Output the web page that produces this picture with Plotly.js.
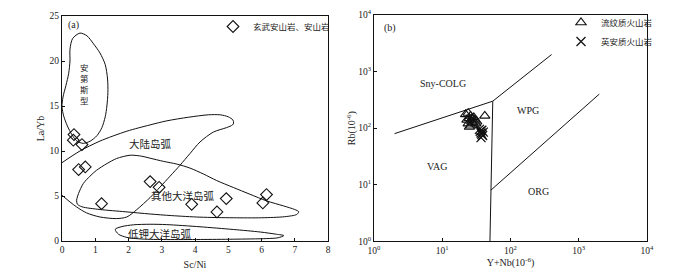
<!DOCTYPE html>
<html>
<head>
<meta charset="utf-8">
<script src="https://cdn.plot.ly/plotly-3.0.1.min.js"></script>
<style>html,body{margin:0;padding:0;background:#fff;}#chart{width:689px;height:276px;}</style>
</head>
<body>
<div id="chart"></div>
<script>
// ---------- Panel (a): Sc/Ni vs La/Yb ----------
const scNi = [0.36, 0.34, 0.60, 0.50, 0.70, 1.19, 2.65, 2.92, 3.90, 4.66, 4.94, 6.04, 6.15];
const laYb = [11.83, 11.2, 10.72, 7.94, 8.23, 4.15, 6.6, 5.97, 4.08, 3.23, 4.71, 4.23, 5.16];
const seriesA = '玄武安山岩、安山岩';

// field boundaries (Sc/Ni, La/Yb)
const andeanX = [0.54,0.75,0.95,1.14,1.30,1.37,1.38,1.35,1.30,1.20,1.05,0.85,0.64,0.45,0.30,0.16,0.05,0.00,0.03,0.12,0.20,0.24,0.24,0.32,0.54];
const andeanY = [23.1,22.8,21.9,20.9,19.6,18.0,16.5,15.0,13.8,12.6,11.7,11.1,10.85,11.1,11.8,12.8,13.9,14.9,16.0,17.3,18.6,20.0,21.3,22.5,23.1];

const contX = [0.00,0.54,1.14,1.95,2.65,3.15,3.80,4.40,4.76,5.00,5.14,5.16,5.13,4.95,4.55,4.15,3.85,3.55,3.25,2.95,2.65,2.25,1.95,1.64,1.14,0.74,0.44,0.24,0.00];
const contY = [8.7,10.0,11.1,12.2,12.9,13.35,13.75,14.02,14.02,13.8,13.45,13.1,12.9,12.6,12.1,11.0,9.72,8.42,7.2,6.0,4.83,3.49,2.67,2.49,2.67,3.12,3.78,4.34,5.08];

const oceanX = [0.44,0.50,0.64,0.84,1.04,1.35,1.64,2.05,2.40,2.65,3.05,3.45,3.85,4.25,4.65,5.15,5.65,6.16,6.66,7.00,7.12,7.06,6.70,6.00,5.15,4.15,3.30,2.65,1.90,1.14,0.60,0.46,0.44];
const oceanY = [4.53,5.3,6.38,7.2,7.86,8.6,9.16,9.53,9.42,9.2,8.85,8.55,8.1,7.45,6.72,5.95,5.2,4.45,3.9,3.5,3.25,2.95,2.7,2.58,2.58,2.65,2.82,3.0,3.25,3.5,3.8,4.1,4.53];

const lowKX = [1.60,1.80,2.15,2.65,3.15,4.15,5.15,5.96,6.45,6.67,6.50,6.16,5.15,4.16,3.15,2.40,1.95,1.70,1.60];
const lowKY = [1.30,1.60,1.80,1.86,1.82,1.58,1.28,1.00,0.75,0.60,0.36,0.27,0.20,0.17,0.16,0.22,0.40,0.75,1.30];

// ---------- Panel (b): Y+Nb vs Rb ----------
const seriesB1 = '流纹质火山岩';
const seriesB2 = '英安质火山岩';
const rhyYNb = [22, 24, 25, 26, 27, 24, 28, 30, 23, 26, 29, 31, 27, 25, 32, 42];
const rhyRb  = [175,185,150,165,130,120,125,140,140,110,155,120,145,105,130,165];
const dacYNb = [35, 36, 37, 38, 39, 40, 38, 37];
const dacRb  = [95, 88, 82, 78, 74, 85, 92, 68];

// discrimination boundaries (Pearce et al. 1984)
const colgVagX = [2, 55];      const colgVagY = [80, 300];
const wpgColgX = [55, 400];    const wpgColgY = [300, 2000];
const vagSplitX = [55, 51.5, 50]; const vagSplitY = [300, 8, 1];
const orgWpgX = [51.5, 2000];  const orgWpgY = [8, 400];

const logTicks = [1, 10, 100, 1000, 10000];
const logTickText = ['10<sup>0</sup>','10<sup>1</sup>','10<sup>2</sup>','10<sup>3</sup>','10<sup>4</sup>'];

const serif = 'Liberation Serif, Times New Roman, Noto Sans CJK SC, serif';
const txt = '#222';
const fieldLine = {color:'#111', width:1, shape:'spline', smoothing:0.8};
const bLine = {color:'#111', width:1};

function field(x, y, xa, ya){
  return {x:x, y:y, xaxis:xa, yaxis:ya, mode:'lines', line:fieldLine, showlegend:false, hoverinfo:'skip'};
}
function bnd(x, y){
  return {x:x, y:y, xaxis:'x2', yaxis:'y2', mode:'lines', line:bLine, showlegend:false, hoverinfo:'skip'};
}

const traces = [
  field(andeanX, andeanY, 'x', 'y'),
  field(contX, contY, 'x', 'y'),
  field(oceanX, oceanY, 'x', 'y'),
  field(lowKX, lowKY, 'x', 'y'),
  {x:scNi, y:laYb, xaxis:'x', yaxis:'y', mode:'markers', name:seriesA, legend:'legend',
   marker:{symbol:'diamond-open', size:9, color:'#111', line:{width:1.1}}},
  bnd(colgVagX, colgVagY), bnd(wpgColgX, wpgColgY), bnd(vagSplitX, vagSplitY), bnd(orgWpgX, orgWpgY),
  {x:rhyYNb, y:rhyRb, xaxis:'x2', yaxis:'y2', mode:'markers', name:seriesB1, legend:'legend2',
   marker:{symbol:'triangle-up-open', size:9, color:'#111', line:{width:1.1}}},
  {x:dacYNb, y:dacRb, xaxis:'x2', yaxis:'y2', mode:'markers', name:seriesB2, legend:'legend2',
   marker:{symbol:'x-thin-open', size:9, color:'#111', line:{width:1.3, color:'#111'}}}
];

const axBase = {showgrid:false, zeroline:false, showline:true, mirror:true, linecolor:'#111', linewidth:1,
  ticks:'inside', ticklen:3, tickcolor:'#111', tickfont:{family:serif, size:9.5, color:txt}};

const W = 689, H = 276;
function px(a, b){ return [a/W, b/W]; }
function py(top, bot){ return [1 - bot/H, 1 - top/H]; }

function note(xref, yref, x, y, text, size){
  return {xref:xref, yref:yref, x:x, y:y, text:text, showarrow:false,
          font:{family:serif, size:size, color:txt}};
}

const ann = [
  Object.assign(note('x', 'y', 0.12, 24.0, '(a)', 10), {xanchor:'left'}),
  note('x', 'y', 0.69, 17.4, '安<br>第<br>斯<br>型', 8.5),
  note('x', 'y', 2.65, 10.8, '大陆岛弧', 10.5),
  note('x', 'y', 3.65, 4.95, '其他大洋岛弧', 10.5),
  note('x', 'y', 2.95, 0.74, '低钾大洋岛弧', 10.5),
  Object.assign(note('x2', 'y2', Math.log10(1.3), Math.log10(6000), '(b)', 10), {xanchor:'left'}),
  note('x2', 'y2', Math.log10(10.1), Math.log10(620), 'Sny-COLG', 10),
  note('x2', 'y2', Math.log10(182), Math.log10(209), 'WPG', 10),
  note('x2', 'y2', Math.log10(8.3), Math.log10(20.8), 'VAG', 10),
  note('x2', 'y2', Math.log10(255), Math.log10(7.74), 'ORG', 10)
];

const layout = {
  width:W, height:H, margin:{l:0, r:0, t:0, b:0},
  paper_bgcolor:'#fff', plot_bgcolor:'#fff',
  font:{family:serif, color:txt, size:10},
  xaxis:Object.assign({}, axBase, {domain:px(62, 328), range:[0, 8], dtick:1, anchor:'y',
    title:{text:'Sc/Ni', font:{family:serif, size:10, color:txt}, standoff:6}}),
  yaxis:Object.assign({}, axBase, {domain:py(16, 241), range:[0, 25], dtick:5, anchor:'x',
    title:{text:'La/Yb', font:{family:serif, size:10, color:txt}, standoff:3}}),
  xaxis2:Object.assign({}, axBase, {domain:px(374, 647), type:'log', range:[0, 4], anchor:'y2',
    tickvals:logTicks, ticktext:logTickText,
    title:{text:'Y+Nb(10<sup>-6</sup>)', font:{family:serif, size:10, color:txt}, standoff:4}}),
  yaxis2:Object.assign({}, axBase, {domain:py(15, 241.3), type:'log', range:[0, 4], anchor:'x2',
    tickvals:logTicks, ticktext:logTickText,
    title:{text:'Rb(10<sup>-6</sup>)', font:{family:serif, size:10, color:txt}, standoff:0}}),
  legend:{x:213/W, y:1 - 12/H, xanchor:'left', yanchor:'top', bgcolor:'rgba(0,0,0,0)',
    font:{family:serif, size:8.5, color:txt}, itemwidth:30, tracegroupgap:0},
  legend2:{x:561/W, y:1 - 8/H, xanchor:'left', yanchor:'top', bgcolor:'rgba(0,0,0,0)',
    font:{family:serif, size:8.5, color:txt}, itemwidth:30, tracegroupgap:0},
  annotations:ann,
  showlegend:true
};

Plotly.newPlot('chart', traces, layout, {staticPlot:true, displayModeBar:false});
</script>
</body>
</html>
